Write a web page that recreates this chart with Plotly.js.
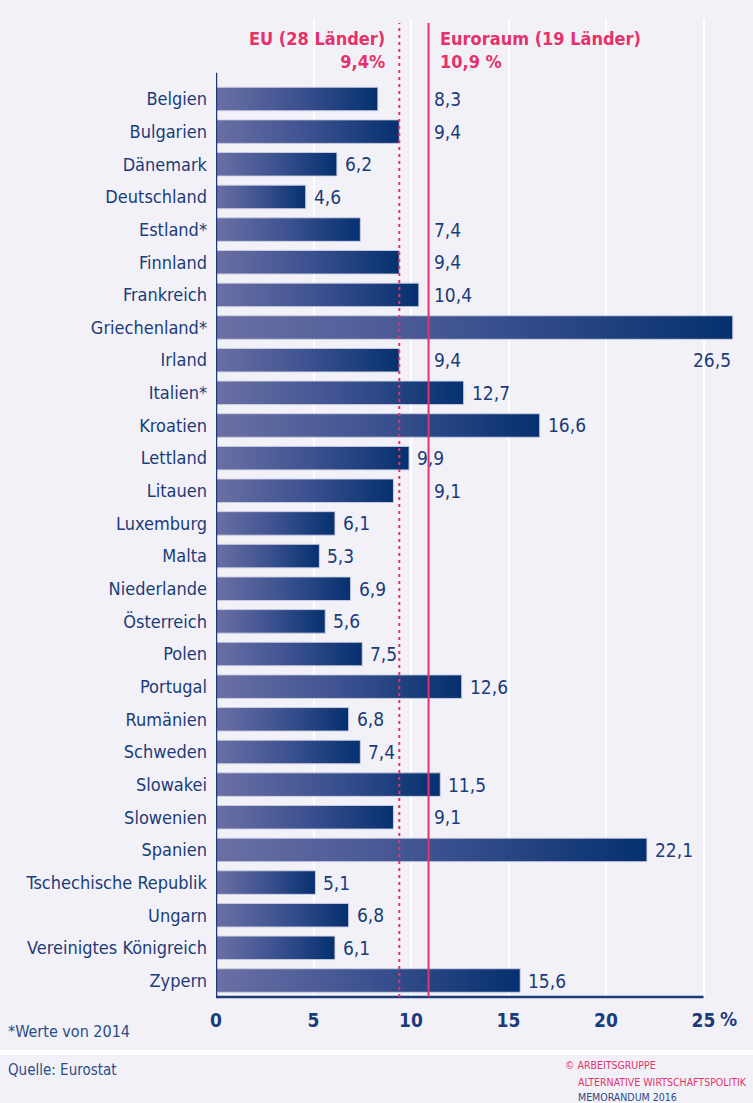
<!DOCTYPE html>
<html>
<head>
<meta charset="utf-8">
<script src="https://cdn.plot.ly/plotly-3.0.1.min.js"></script>
<style>
  body { margin: 0; background: #f3f1f8; }
  #graph { width: 753px; height: 1103px; }
</style>
</head>
<body>
<div id="graph"></div>
<script>
var countries = ["Belgien", "Bulgarien", "Dänemark", "Deutschland", "Estland*", "Finnland",
    "Frankreich", "Griechenland*", "Irland", "Italien*", "Kroatien", "Lettland", "Litauen",
    "Luxemburg", "Malta", "Niederlande", "Österreich", "Polen", "Portugal", "Rumänien",
    "Schweden", "Slowakei", "Slowenien", "Spanien", "Tschechische Republik", "Ungarn",
    "Vereinigtes Königreich", "Zypern"];
var rates = [8.3, 9.4, 6.2, 4.6, 7.4, 9.4, 10.4, 26.5, 9.4, 12.7, 16.6, 9.9, 9.1,
    6.1, 5.3, 6.9, 5.6, 7.5, 12.6, 6.8, 7.4, 11.5, 9.1, 22.1, 5.1, 6.8, 6.1, 15.6];
// these labels sit to the right of the Euroraum line
var labelAfterLine = ["Belgien", "Bulgarien", "Estland*", "Finnland", "Frankreich", "Irland", "Litauen", "Slowenien"];
var xTicks = [0, 5, 10, 15, 20, 25];
var xTickText = ["0", "5", "10", "15", "20", "25"];
var euRate = 9.4;
var euroRate = 10.9;

function drawGraph() {
    var navy = "#1b3c79", pink = "#e3336a";
    var font = "'DejaVu Sans Condensed', sans-serif";
    var fmt = function (v) { return v.toFixed(1).replace(".", ","); };

    // plot area in pixels
    var left = 216, top = 19, bottom = 997, right = 743;
    var plotW = right - left, plotH = bottom - top;
    var px = function (p) { return (p - left) / plotW; };
    var py = function (p) { return (bottom - p) / plotH; };

    var half = 0.36;
    var data = [];
    rates.forEach(function (v, i) {
        data.push({
            x: [0, v, v, 0, 0],
            y: [i - half, i - half, i + half, i + half, i - half],
            type: "scatter",
            mode: "lines",
            fill: "toself",
            fillgradient: {type: "horizontal", colorscale: [[0, "#6b70a5"], [0.5, "#3d5290"], [1, "#05306f"]]},
            line: {color: "rgba(205,208,228,0.9)", width: 1},
            hoverinfo: "skip",
            showlegend: false
        });
    });

    var annotations = [];
    rates.forEach(function (v, i) {
        var a = {
            y: i, yref: "y", xref: "x", text: fmt(v), showarrow: false,
            font: {family: font, size: 19, color: navy}
        };
        if (v > 25) {
            a.x = v; a.y = i + 1; a.xanchor = "right";
        } else if (labelAfterLine.indexOf(countries[i]) >= 0) {
            a.x = euroRate; a.xanchor = "left"; a.xshift = 3;
        } else {
            a.x = v; a.xanchor = "left"; a.xshift = 6;
        }
        annotations.push(a);
    });

    annotations.push({
        x: euRate, xref: "x", xanchor: "right", xshift: -12,
        y: -1.5, yref: "y", yanchor: "middle", align: "right",
        text: "EU (28 Länder)<br>" + fmt(euRate) + "%", showarrow: false,
        font: {family: font, size: 18, color: pink, weight: "bold"}
    });
    annotations.push({
        x: euroRate, xref: "x", xanchor: "left", xshift: 9,
        y: -1.5, yref: "y", yanchor: "middle", align: "left",
        text: "Euroraum (19 Länder)<br>" + fmt(euroRate) + " %", showarrow: false,
        font: {family: font, size: 18, color: pink, weight: "bold"}
    });
    annotations.push({
        x: 25, xref: "x", xanchor: "left", xshift: 14,
        y: py(1019), yref: "paper", yanchor: "middle", text: "%", showarrow: false,
        font: {family: font, size: 19, color: navy, weight: "bold"}
    });
    annotations.push({
        x: px(6), xref: "paper", xanchor: "left", y: py(1031), yref: "paper", yanchor: "middle",
        text: "*Werte von 2014", showarrow: false,
        font: {family: font, size: 16, color: "#2a4c88"}
    });
    annotations.push({
        x: px(6), xref: "paper", xanchor: "left", y: py(1070), yref: "paper", yanchor: "middle",
        text: "Quelle: Eurostat", showarrow: false,
        font: {family: font, size: 15, color: "#2a4c88"}
    });
    annotations.push({
        x: px(563), xref: "paper", xanchor: "left", y: py(1065), yref: "paper", yanchor: "middle",
        text: "© ARBEITSGRUPPE", showarrow: false,
        font: {family: font, size: 10.5, color: pink}
    });
    annotations.push({
        x: px(576), xref: "paper", xanchor: "left", y: py(1082), yref: "paper", yanchor: "middle",
        text: "ALTERNATIVE WIRTSCHAFTSPOLITIK", showarrow: false,
        font: {family: font, size: 10.5, color: pink}
    });
    annotations.push({
        x: px(576), xref: "paper", xanchor: "left", y: py(1097), yref: "paper", yanchor: "middle",
        text: "MEMORANDUM 2016", showarrow: false,
        font: {family: font, size: 10.5, color: "#2a4c88"}
    });

    var shapes = [
        // white separator band above the footer
        {type: "rect", xref: "paper", yref: "paper", x0: px(0), x1: px(753), y0: py(1050), y1: py(1055),
         fillcolor: "#ffffff", line: {width: 0}, layer: "below"},
        // axes
        {type: "line", xref: "x", yref: "y", x0: 0, x1: 0, y0: -0.8, y1: 27.5,
         line: {color: navy, width: 2.5}},
        {type: "line", xref: "x", yref: "paper", x0: 0, x1: 25, y0: 0, y1: 0,
         line: {color: navy, width: 2.5}},
        // reference lines
        {type: "line", xref: "x", yref: "paper", x0: euRate, x1: euRate, y0: 0, y1: py(23),
         line: {color: pink, width: 2, dash: "3px,4px"}},
        {type: "line", xref: "x", yref: "paper", x0: euroRate, x1: euroRate, y0: 0, y1: py(23),
         line: {color: pink, width: 2}}
    ];

    var layout = {
        width: 753,
        height: 1103,
        margin: {l: left, r: 753 - right, t: top, b: 1103 - bottom},
        paper_bgcolor: "#f3f1f8",
        plot_bgcolor: "#f3f1f8",
        showlegend: false,
        xaxis: {
            range: [0, plotW / 19.5],
            tickvals: xTicks,
            ticktext: xTickText,
            showgrid: true,
            gridcolor: "#ffffff",
            gridwidth: 2,
            zeroline: false,
            showline: false,
            ticks: "",
            ticklabelstandoff: 10,
            tickfont: {family: font, size: 19, color: navy, weight: "bold"},
            fixedrange: true
        },
        yaxis: {
            range: [27.505, -2.45],
            tickvals: countries.map(function (c, i) { return i; }),
            ticktext: countries,
            showgrid: false,
            zeroline: false,
            showline: false,
            ticks: "",
            ticklabelstandoff: 8,
            tickfont: {family: font, size: 18, color: navy},
            fixedrange: true
        },
        shapes: shapes,
        annotations: annotations
    };

    Plotly.newPlot("graph", data, layout, {displayModeBar: false, staticPlot: true});
}

drawGraph();
</script>
</body>
</html>
